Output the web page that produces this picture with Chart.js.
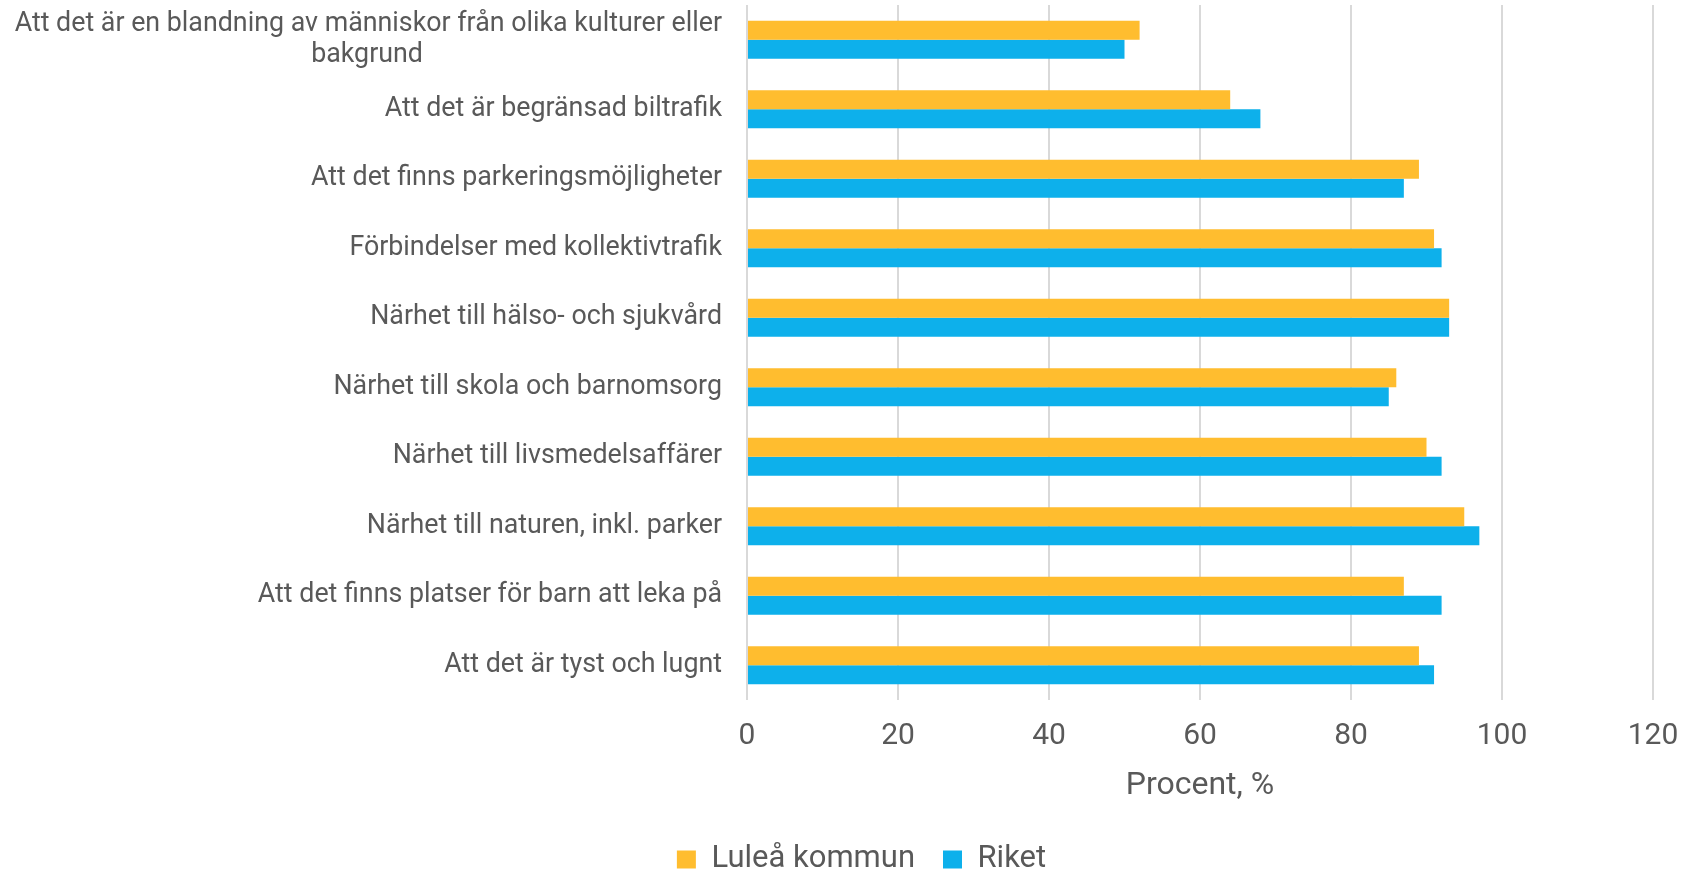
<!DOCTYPE html>
<html>
<head>
<meta charset="utf-8">
<script src="https://cdn.jsdelivr.net/npm/chart.js@4"></script>
<style>
  html, body { margin: 0; padding: 0; background: #ffffff; }
  #wrap { width: 1687px; height: 872px; }
</style>
</head>
<body>
<div id="wrap"><canvas id="c" width="1687" height="872"></canvas></div>
<script>
const categories = [
  ["Att det är en blandning av människor från olika kulturer eller", "bakgrund" + " ".repeat(45)],
  "Att det är begränsad biltrafik",
  "Att det finns parkeringsmöjligheter",
  "Förbindelser med kollektivtrafik",
  "Närhet till hälso- och sjukvård",
  "Närhet till skola och barnomsorg",
  "Närhet till livsmedelsaffärer",
  "Närhet till naturen, inkl. parker",
  "Att det finns platser för barn att leka på",
  "Att det är tyst och lugnt"
];
const seriesNames = ["Luleå kommun", "Riket"];
const luleaValues = [52, 64, 89, 91, 93, 86, 90, 95, 87, 89];
const riketValues = [50, 68, 87, 92, 93, 85, 92, 97, 92, 91];
const xMin = 0, xMax = 120, xStep = 20;
const xTitle = "Procent, %";

const textColor = "#595959";
const fontFamily = "Roboto, 'Noto Sans', sans-serif";

const legendShift = {
  id: 'legendShift',
  afterLayout(chart) {
    if (chart.legend) { chart.legend.left += 35; chart.legend.right += 35; }
  }
};

new Chart(document.getElementById('c').getContext('2d'), {
  type: 'bar',
  data: {
    labels: categories,
    datasets: [
      { label: seriesNames[0], data: luleaValues, backgroundColor: '#FFBD2F', borderWidth: 0,
        categoryPercentage: 0.55, barPercentage: 1.0 },
      { label: seriesNames[1], data: riketValues, backgroundColor: '#0DB0EB', borderWidth: 0,
        categoryPercentage: 0.55, barPercentage: 1.0 }
    ]
  },
  plugins: [legendShift],
  options: {
    indexAxis: 'y',
    responsive: false,
    animation: false,
    maintainAspectRatio: false,
    layout: { padding: { top: 5, left: 0, right: 34, bottom: -13 } },
    plugins: {
      tooltip: { enabled: false },
      legend: {
        position: 'bottom',
        align: 'center',
        labels: {
          boxWidth: 19, boxHeight: 18, padding: 28,
          color: textColor,
          font: { family: fontFamily, size: 31 }
        }
      }
    },
    scales: {
      x: {
        min: xMin, max: xMax,
        ticks: { stepSize: xStep, color: textColor, padding: 18,
                 font: { family: fontFamily, size: 30 } },
        grid: { color: '#D9D9D9', lineWidth: 2, drawTicks: false },
        border: { display: false },
        title: { display: true, text: xTitle, color: textColor,
                 font: { family: fontFamily, size: 32 }, padding: { top: 0, bottom: 11 } },
        afterFit: (s) => { s.height = 116; s.paddingLeft = 0; s.paddingRight = 0; }
      },
      y: {
        ticks: { color: textColor, padding: 25, autoSkip: false,
                 font: { family: fontFamily, size: 26.8, lineHeight: 1.15 } },
        grid: { display: false, drawTicks: false },
        border: { display: false },
        afterFit: (s) => { s.width = 747; s.paddingTop = 0; s.paddingBottom = 0; }
      }
    }
  }
});
</script>
</body>
</html>
